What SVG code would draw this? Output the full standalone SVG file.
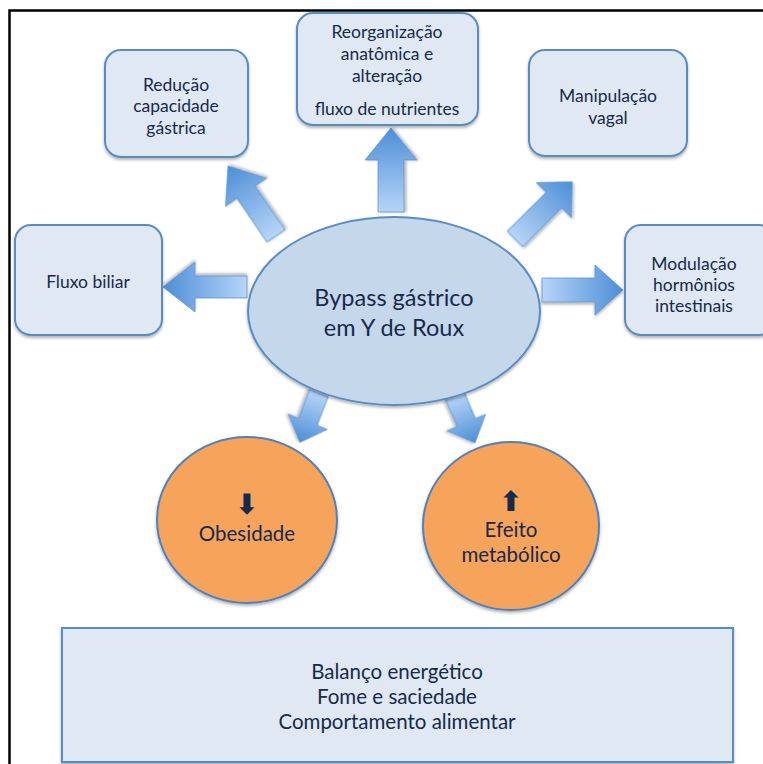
<svg xmlns="http://www.w3.org/2000/svg" width="763" height="764" viewBox="0 0 763 764">
<defs>
<linearGradient id="ag" x1="0" y1="0" x2="1" y2="0">
<stop offset="0" stop-color="#b6d5f8"/>
<stop offset="1" stop-color="#4d8ed6"/>
</linearGradient>
<filter id="sh" x="-10%" y="-10%" width="120%" height="125%">
<feDropShadow dx="0" dy="2" stdDeviation="1.5" flood-color="#000" flood-opacity="0.3"/>
</filter>
<style>
.box{fill:#dfe8f3;stroke:#5a8cc4;stroke-width:2;filter:url(#sh)}
.core{fill:#c5d7eb;stroke:#5a8cc4;stroke-width:2;filter:url(#sh)}
.orange{fill:#f6a45c;stroke:#4f81bd;stroke-width:2;filter:url(#sh)}
.base{fill:#dfe8f3;stroke:#5a8cc4;stroke-width:2;filter:url(#sh)}
.arr{fill:url(#ag);stroke:#5f95d0;stroke-width:0.8;filter:url(#sh)}
text{font-family:Lato,"Open Sans","Liberation Sans",sans-serif;fill:#172a4c;text-anchor:middle}
.s16{font-size:17.5px}
.s19{font-size:20.5px}
.s23{font-size:23.5px}
.sym{font-family:"DejaVu Sans",sans-serif;font-size:28px;font-weight:bold}
</style>
</defs>
<rect width="763" height="764" fill="#ffffff"/>
<path d="M9.5,764 V10.5 H763" fill="none" stroke="#000" stroke-width="2.5"/>

<g id="connectors">
<path class="arr" transform="translate(391,212) rotate(-90)" d="M0,-13 L52,-13 L52,-26 L84,0 L52,26 L52,13 L0,13 Z"/>
<path class="arr" transform="translate(247,287) rotate(180)" d="M0,-11 L52,-11 L52,-25 L84,0 L52,25 L52,11 L0,11 Z"/>
<path class="arr" transform="translate(542,290)" d="M0,-12 L53,-12 L53,-25 L81,0 L53,25 L53,12 L0,12 Z"/>
<path class="arr" transform="translate(276,236) rotate(-124.4)" d="M0,-11 L53,-11 L53,-25 L85,0 L53,25 L53,11 L0,11 Z"/>
<path class="arr" transform="translate(515,239) rotate(-45)" d="M0,-11 L55,-11 L55,-25 L81,0 L55,25 L55,11 L0,11 Z"/>
<path class="arr" transform="translate(319,393) rotate(111.2)" d="M0,-10 L31,-10 L31,-21 L53,0 L31,21 L31,10 L0,10 Z"/>
<path class="arr" transform="translate(455,396) rotate(66.9)" d="M0,-10 L29,-10 L29,-21 L51,0 L29,21 L29,10 L0,10 Z"/>
</g>

<g id="bypass">
<ellipse class="core" cx="394" cy="311" rx="146" ry="94"/>
<text class="s23" x="394" y="306">Bypass gástrico</text>
<text class="s23" x="394" y="336">em Y de Roux</text>
</g>

<g id="reducao">
<rect class="box" x="105" y="50" width="143" height="107" rx="16"/>
<text class="s16" x="176" y="91">Redução</text>
<text class="s16" x="176" y="112">capacidade</text>
<text class="s16" x="176" y="134">gástrica</text>
</g>

<g id="reorganizacao">
<rect class="box" x="297" y="13" width="181" height="112" rx="16"/>
<text class="s16" x="387" y="38">Reorganização</text>
<text class="s16" x="387" y="60">anatômica e</text>
<text class="s16" x="387" y="82">alteração</text>
<text class="s16" x="387" y="115">fluxo de nutrientes</text>
</g>

<g id="manipulacao">
<rect class="box" x="529" y="50" width="158" height="106" rx="16"/>
<text class="s16" x="608" y="102">Manipulação</text>
<text class="s16" x="608" y="124">vagal</text>
</g>

<g id="fluxo-biliar">
<rect class="box" x="15" y="225" width="147" height="110" rx="16"/>
<text class="s16" x="88" y="288">Fluxo biliar</text>
</g>

<g id="modulacao">
<rect class="box" x="625" y="225" width="150" height="110" rx="16"/>
<text class="s16" x="694" y="270">Modulação</text>
<text class="s16" x="694" y="291">hormônios</text>
<text class="s16" x="694" y="312">intestinais</text>
</g>

<g id="obesidade">
<ellipse class="orange" cx="247" cy="520" rx="90" ry="83"/>
<text class="sym" x="247" y="514">⬇</text>
<text class="s19" x="247" y="541">Obesidade</text>
</g>

<g id="efeito">
<ellipse class="orange" cx="511" cy="526" rx="88" ry="84"/>
<text class="sym" x="511" y="511">⬆</text>
<text class="s19" x="511" y="537">Efeito</text>
<text class="s19" x="511" y="562">metabólico</text>
</g>

<g id="balanco">
<rect class="base" x="62" y="628" width="671" height="134"/>
<text class="s19" x="397" y="679">Balanço energético</text>
<text class="s19" x="397" y="704">Fome e saciedade</text>
<text class="s19" x="397" y="729">Comportamento alimentar</text>
</g>
</svg>
